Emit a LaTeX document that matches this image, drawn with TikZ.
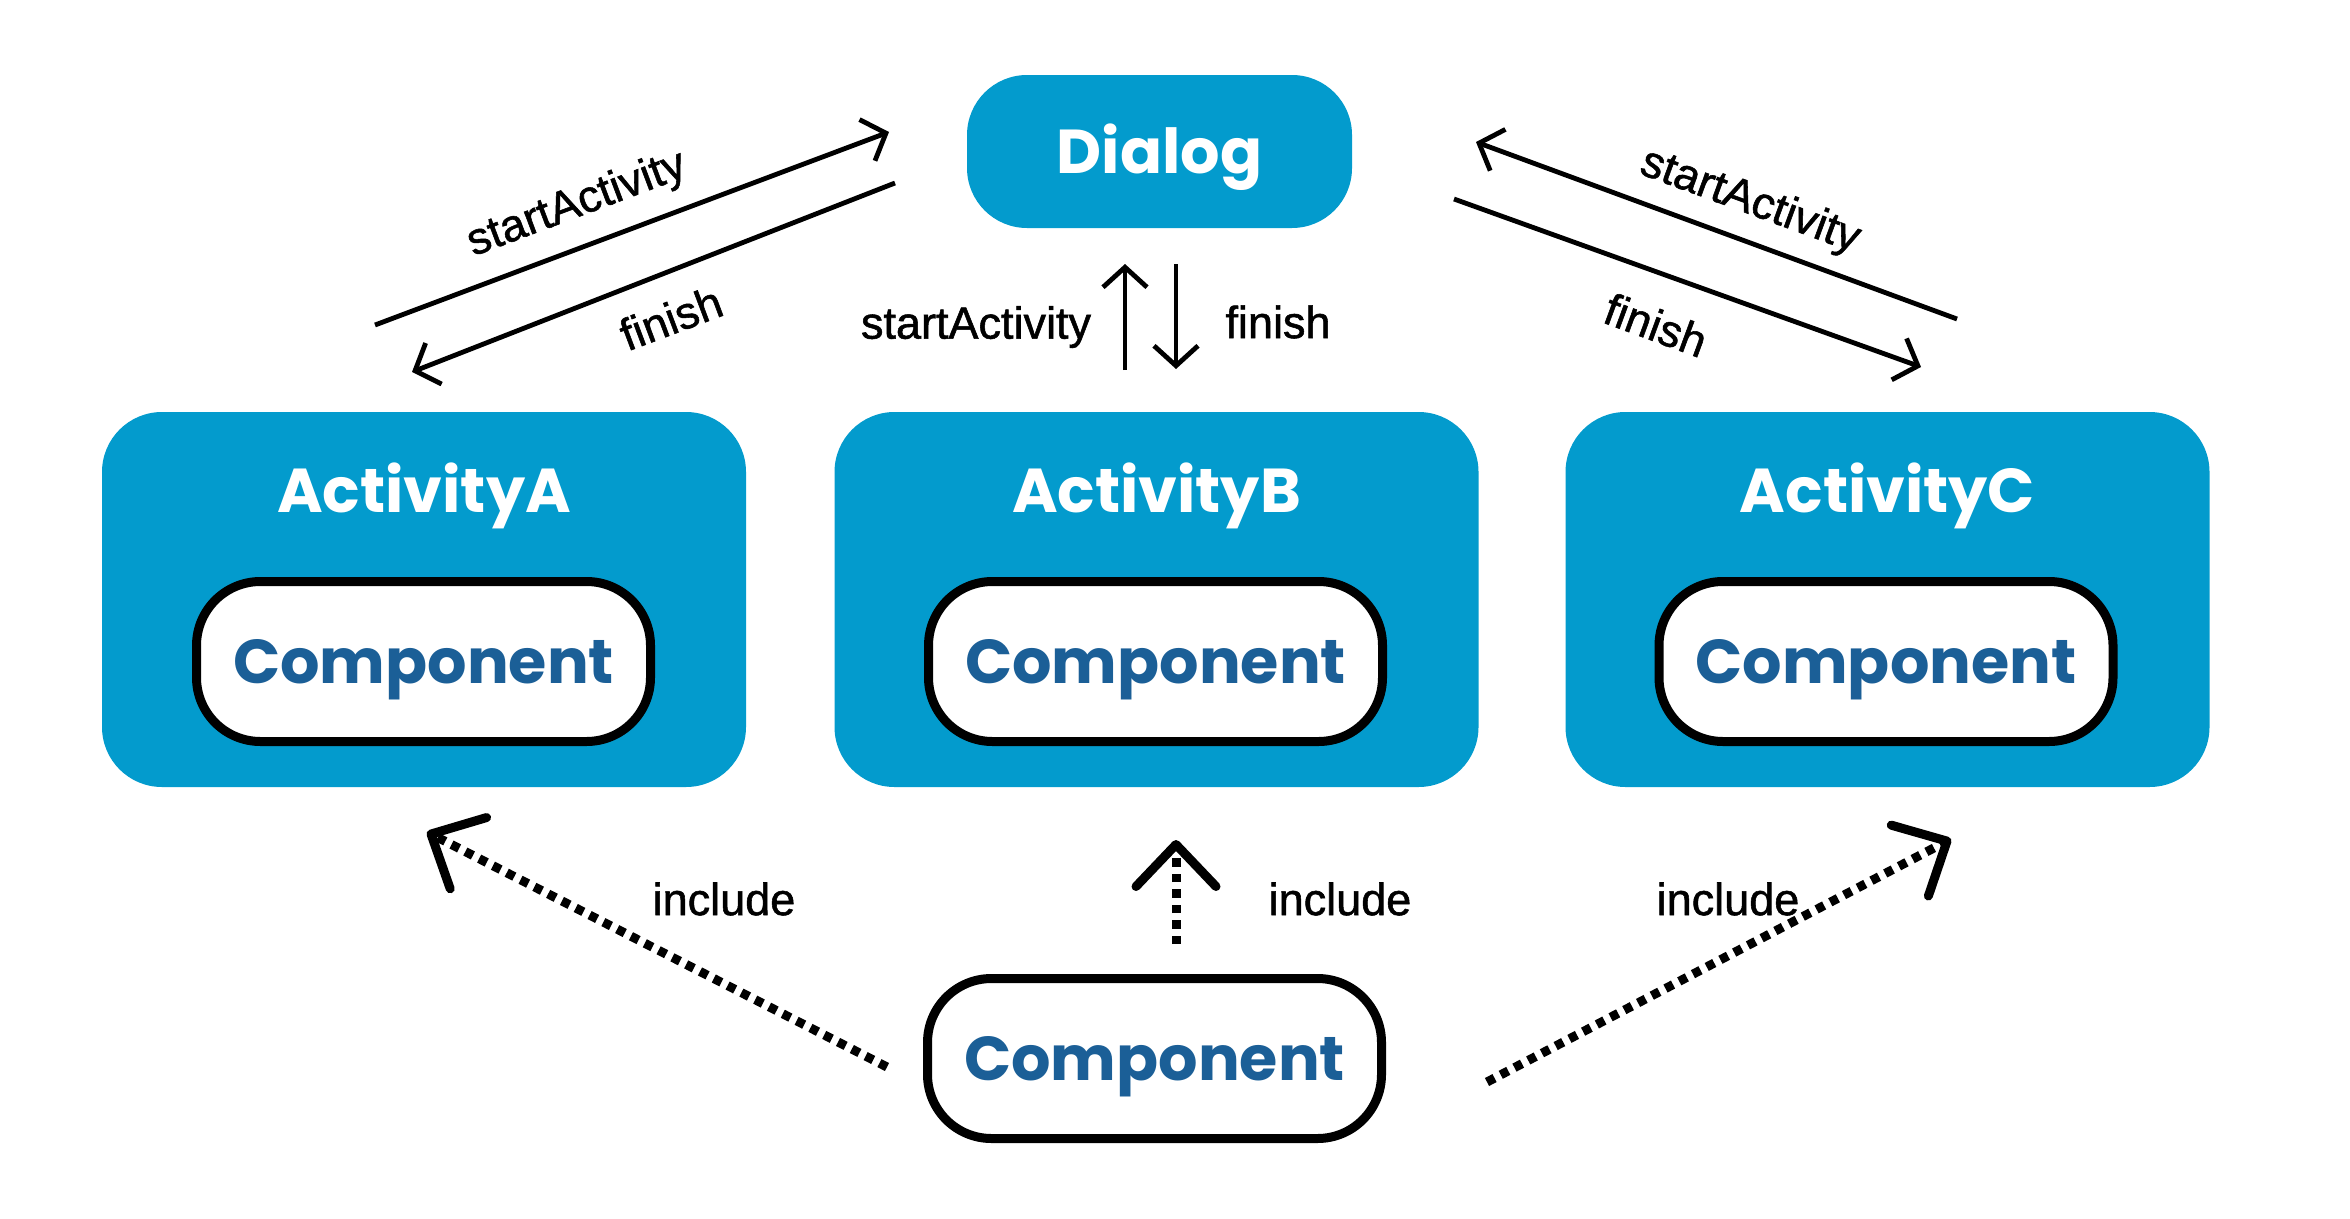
\documentclass[tikz,border=0pt]{standalone}
\usepackage{fontspec}
\setmainfont{Poppins}
\newfontfamily\lblfont[FakeBold=1.2]{Liberation Sans}
\usetikzlibrary{arrows.meta}
\definecolor{boxblue}{HTML}{039BCD}
\definecolor{compblue}{HTML}{1B5F97}
\begin{document}
\begin{tikzpicture}[x=1pt,y=-1pt,
  actbox/.style={rectangle, rounded corners=60pt, fill=boxblue, minimum width=644pt, minimum height=375pt, inner sep=0pt},
  dlgbox/.style={rectangle, rounded corners=60pt, fill=boxblue, minimum width=385pt, minimum height=153pt, inner sep=0pt, text=white, font=\fontsize{62}{62}\selectfont\bfseries, text height=44pt, text depth=0pt},
  compbox/.style={rectangle, rounded corners=64pt, draw=black, line width=9pt, fill=white, minimum width=454pt, minimum height=160pt, inner sep=0pt, text=compblue, font=\fontsize{62}{62}\selectfont\bfseries, text height=44pt, text depth=0pt},
  title/.style={text=white, font=\fontsize{62}{62}\selectfont\bfseries, inner sep=0pt, text height=44pt, text depth=0pt},
  lbl/.style={font=\lblfont\fontsize{45}{45}\selectfont, inner sep=0pt},
  flow/.style={line width=4.8pt, -{Straight Barb[length=20pt,width=44pt]}},
  incl/.style={line width=9pt, dash pattern=on 8.5pt off 7pt, -{Straight Barb[length=42pt,width=80pt,line width=9pt,round]}}
]
\useasboundingbox (0,0) rectangle (2350,1218);
% boxes
\node[dlgbox] (dlg) at (1159.5,151.5) {Dialog};
\node[actbox] (actA) at (424,599.5) {};
\node[actbox] (actB) at (1156.5,599.5) {};
\node[actbox] (actC) at (1887.5,599.5) {};
\node[title] (tA) at (424,490) {ActivityA};
\node[title] (tB) at (1156.5,490) {ActivityB};
\node[title] (tC) at (1887.5,490) {ActivityC};
\node[compbox] (cA) at (423.5,661.5) {Component};
\node[compbox] (cB) at (1155.5,661.5) {Component};
\node[compbox] (cC) at (1886,661.5) {Component};
\node[compbox] (cM) at (1154.5,1058.5) {Component};
% flow coordinates
\coordinate (aS1) at (375,325); \coordinate (aE1) at (889,132);
\coordinate (aS2) at (895,183); \coordinate (aE2) at (412,372);
\coordinate (cS1) at (1957,319); \coordinate (cE1) at (1476,142);
\coordinate (cS2) at (1454,199); \coordinate (cE2) at (1921,367);
\coordinate (bS1) at (1125,370); \coordinate (bE1) at (1125,264);
\coordinate (bS2) at (1176,264); \coordinate (bE2) at (1176,369);
\draw[flow] (aS1) -- (aE1);
\draw[flow] (aS2) -- (aE2);
\draw[flow] (cS1) -- (cE1);
\draw[flow] (cS2) -- (cE2);
\draw[flow] (bS1) -- (bE1);
\draw[flow] (bS2) -- (bE2);
\node[lbl, rotate=20.6] (l1) at (577,205) {startActivity};
\node[lbl, rotate=20.6] (l2) at (671,318) {finish};
\node[lbl, rotate=-20.2] (l3) at (1750,202) {startActivity};
\node[lbl, rotate=-20.2] (l4) at (1656,325) {finish};
\node[lbl] (l5) at (976,327) {startActivity};
\node[lbl] (l6) at (1278,322) {finish};
% include
\coordinate (iS1) at (887,1067); \coordinate (iE1) at (427,832);
\coordinate (iS2) at (1176,944); \coordinate (iE2) at (1176,840);
\coordinate (iS3) at (1487,1082); \coordinate (iE3) at (1951,839);
\draw[incl] (iS1) -- (iE1);
\draw[incl] (iS2) -- (iE2);
\draw[incl] (iS3) -- (iE3);
\node[lbl] (i1) at (724,899) {include};
\node[lbl] (i2) at (1340,899) {include};
\node[lbl] (i3) at (1728,899) {include};
\end{tikzpicture}
\end{document}
